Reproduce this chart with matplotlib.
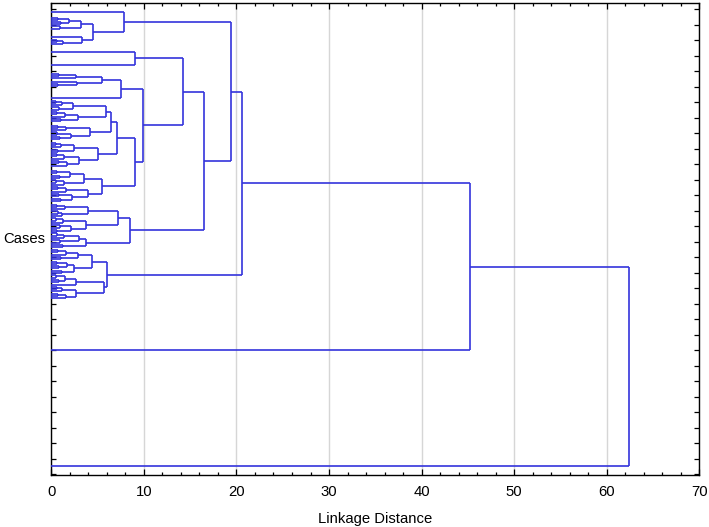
import re
import matplotlib
matplotlib.use("Agg")
import matplotlib.pyplot as plt
from matplotlib.ticker import MultipleLocator, FixedLocator

plt.rcParams['font.family'] = ['Liberation Sans', 'DejaVu Sans']

# ---- Data: sub-trees in bracket notation "(a,b)height"; leaves are case positions
sub_c1 = "(12.3,((((17.6,19.8)0.7,(22,24.2)1.0)1.9,(26.4,28.6)0.9)3.2,(36.7,((40,42.2)0.6,44.4)1.3)3.35)4.5)7.8"
sub_c5 = "(51.7,65)9.0"
sub_c6top = "((((73.8,76)0.8,78.2)2.67,(81.6,(83.8,86)0.7)2.8)5.44,97.7)7.5"
sub_a1a = "((((100.5,102.8)0.5,105.1)1.2,(107.4,109.7)0.8)2.3,(((112,114.3)0.6,116.6)1.5,(118.9,121.2)1.0)2.9)5.9"
sub_a1b = "(((125.5,127.8)0.7,130.1)1.6,((132.4,134.7)0.6,(137,139.3)0.9)2.1)4.2"
sub_a2 = "((((142.6,144.9)0.5,147.2)1.1,(149.5,151.8)0.7)2.4,(((154.1,156.4)0.6,158.7)1.4,((161,163.3)0.8,165.6)1.7)3.0)5.0"
sub_bc = "((((171,173.3)0.6,(175.6,177.9)0.9)2.0,((180.2,182.5)0.5,184.8)1.4)3.5,(((187.1,189.4)0.7,191.7)1.6,((194,196.3)0.8,(198.6,200.9)1.1)2.2)4.0)5.5"
sub_c4a = "((((204.5,206.8)0.6,209.1)1.5,((211.4,213.7)0.7,216)1.2)4.0,(((218.3,220.6)0.5,222.9)1.3,((225.2,227.5)0.9,(229.8,232.1)0.6)2.1)3.8)7.2"
sub_c4b = "((((233.4,235.7)0.6,238)1.4,(240.3,242.6)0.9)3.0,(245,247.3)1.3)3.8"
sub_d1 = "((((250,252.3)0.7,254.6)1.6,(256.9,259.2)1.0)2.9,(((261.5,263.8)0.6,(266.1,268.4)0.8)1.7,(270.7,273)1.2)2.4)4.36"
sub_d2 = "((((275.3,277.6)0.5,(279.9,282.2)0.8)1.5,284.5)2.7,(((286.8,289.1)0.6,291.4)1.2,((293.7,296)0.7,298.3)1.6)2.7)5.65"

# upper-level joins: (left, right, linkage distance)
top_left = ["a1a", "a1", "a", "c6top", "c5", "c3", "c4a", "c1", "c", "d1", "b", "a_all"]
top_right = ["a1b", "a2", "bc", "c6bot", "c6", "c4", "c4b", "c2", "d", "d2", "350", "466"]
top_name = ["a1", "a", "c6bot", "c6", "c3", "c2", "c4", "c", "b", "d", "a_all", "root"]
top_dist = [6.5, 7.1, 9.0, 9.9, 14.2, 16.5, 8.5, 19.4, 20.6, 6.0, 45.2, 62.4]

x_ticks = [0, 10, 20, 30, 40, 50, 60, 70]

color = '#3434dc'
lw = 1.2

fig = plt.figure(figsize=(7.09, 5.27), dpi=100)
ax = fig.add_axes([51.3 / 709, 1 - 475 / 527, (699.3 - 51.3) / 709, (475 - 2.5) / 527])


def draw_join(a, b, h):
    (ya, da), (yb, db) = a, b
    ax.plot([da, h], [ya, ya], color=color, lw=lw, solid_capstyle='butt', zorder=3)
    ax.plot([db, h], [yb, yb], color=color, lw=lw, solid_capstyle='butt', zorder=3)
    ax.plot([h, h], [ya, yb], color=color, lw=lw, solid_capstyle='butt', zorder=3)
    return ((ya + yb) / 2.0, h)


def parse(s):
    tokens = re.findall(r"\(|\)|,|[0-9.]+", s)
    pos = [0]

    def node():
        t = tokens[pos[0]]
        if t == '(':
            pos[0] += 1
            a = node()
            pos[0] += 1  # ','
            b = node()
            pos[0] += 1  # ')'
            h = float(tokens[pos[0]])
            pos[0] += 1
            return draw_join(a, b, h)
        pos[0] += 1
        return (float(t), 0.0)

    return node()


nodes = {
    'c1': parse(sub_c1), 'c5': parse(sub_c5), 'c6top': parse(sub_c6top),
    'a1a': parse(sub_a1a), 'a1b': parse(sub_a1b), 'a2': parse(sub_a2),
    'bc': parse(sub_bc), 'c4a': parse(sub_c4a), 'c4b': parse(sub_c4b),
    'd1': parse(sub_d1), 'd2': parse(sub_d2),
}


def known(name):
    return name in nodes or name.replace('.', '').isdigit()


def get(name):
    if name in nodes:
        return nodes[name]
    return (float(name), 0.0)


pending = list(range(len(top_dist)))
while pending:
    for i in list(pending):
        l, r = top_left[i], top_right[i]
        if known(l) and known(r):
            nodes[top_name[i]] = draw_join(get(l), get(r), top_dist[i])
            pending.remove(i)

ax.set_xlim(0, 70)
ax.set_ylim(475, 2.5)
ax.xaxis.set_major_locator(FixedLocator(x_ticks))
ax.xaxis.set_minor_locator(MultipleLocator(2))
ax.yaxis.set_major_locator(FixedLocator([9.3 + 15.5 * k for k in range(31)]))
ax.set_yticklabels([])
ax.grid(axis='x', which='major', color='#d6d6d6', lw=1.0, zorder=0)
ax.set_axisbelow(True)
ax.tick_params(axis='both', which='both', direction='in', top=True, right=True,
               color='black', width=0.9)
ax.tick_params(axis='x', which='major', length=4, labelsize=10.7, pad=7.5)
ax.tick_params(axis='x', which='minor', length=2.5)
ax.tick_params(axis='y', which='major', length=3.5)
for sp in ax.spines.values():
    sp.set_linewidth(1.0)
    sp.set_color('black')

ax.set_xlabel('Linkage Distance', fontsize=10.7, labelpad=9)
ax.set_ylabel('Cases', fontsize=10.7, rotation=0, ha='right', va='center')
ax.yaxis.set_label_coords(-0.009, 0.5)

fig.savefig('out.png', dpi=100)
